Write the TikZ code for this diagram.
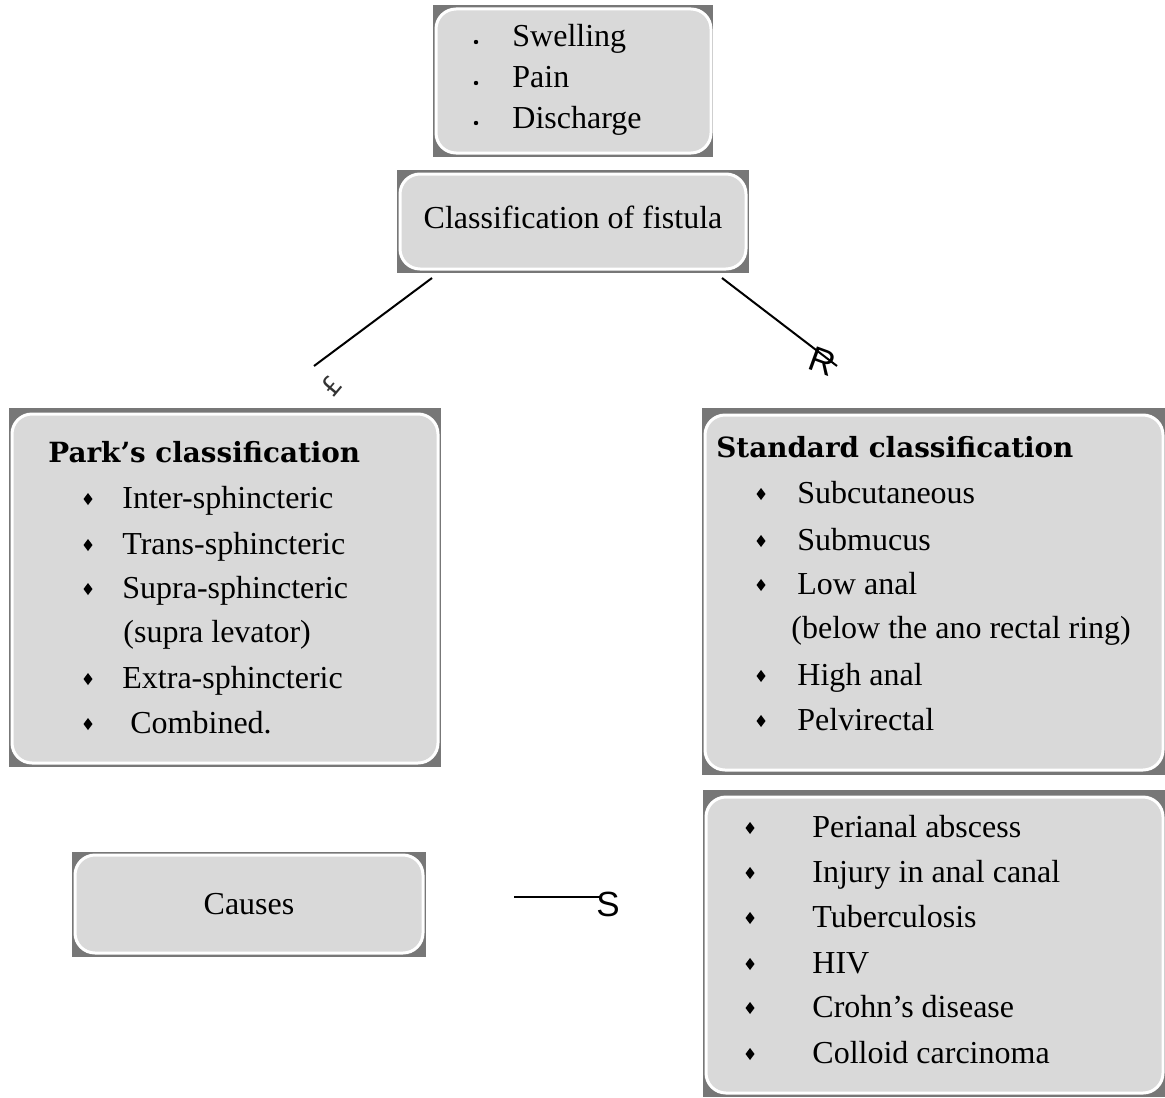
\documentclass[tikz,border=0pt]{standalone}
\usepackage{fontspec}
\setmainfont{Liberation Serif}
\newfontfamily\headfont{DejaVu Serif}
\newfontfamily\sansf{Liberation Sans}
\newfontfamily\symf{DejaVu Sans}
\usetikzlibrary{fit}
\definecolor{shadowc}{HTML}{777777}
\definecolor{boxc}{HTML}{D9D9D9}
\begin{document}
\begin{tikzpicture}[x=0.5pt,y=-0.5pt,
  shadowbox/.style={fill=shadowc, draw=none, inner sep=0pt},
  innerbox/.style={fill=boxc, draw=white, line width=1.5pt, rounded corners=10pt, inner sep=0pt},
  txt/.style={anchor=base west, inner sep=0pt, font=\fontsize{16}{19}\selectfont},
  ctxt/.style={anchor=base, inner sep=0pt, font=\fontsize{16}{19}\selectfont},
  head/.style={anchor=base west, inner sep=0pt, font=\headfont\bfseries\fontsize{13.9}{16}\selectfont},
  conn/.style={line width=1pt, black},
  glyph/.style={inner sep=0pt, font=\sansf\fontsize{17.5}{17.5}\selectfont}]
\useasboundingbox (0,0) rectangle (1165,1097);

% ---------- boxes ----------
\node (s1) [shadowbox, fit={(433,5) (713,157)}] {};
\node (b1) [innerbox, fit={(436,9) (711,153)}] {};
\node (s2) [shadowbox, fit={(397,170) (749,273)}] {};
\node (b2) [innerbox, fit={(400,174) (746,269)}] {};
\node (s3) [shadowbox, fit={(9,408) (441,767)}] {};
\node (b3) [innerbox, fit={(12,414) (438,763)}] {};
\node (s4) [shadowbox, fit={(702,408) (1165,775)}] {};
\node (b4) [innerbox, fit={(705,415) (1163,770)}] {};
\node (s5) [shadowbox, fit={(703,790) (1165,1097)}] {};
\node (b5) [innerbox, fit={(706,797) (1163,1093)}] {};
\node (s6) [shadowbox, fit={(72,852) (426,957)}] {};
\node (b6) [innerbox, fit={(75,855) (423,953)}] {};

% ---------- top box ----------
\foreach \y/\t [count=\i] in {47/Swelling, 88/Pain, 128/Discharge}{
  \fill (476,{\y-5}) circle (2.2);
  \node (t\i) [txt] at (512,\y) {\t};
}

% ---------- classification ----------
\node (cls) [ctxt] at (573,228) {Classification of fistula};

% ---------- Park's ----------
\node (ph) [head] at (48,462) {Park’s classification};
\foreach \x/\y/\t/\b [count=\i] in {122/508/Inter-sphincteric/1, 122/554/Trans-sphincteric/1,
    122/598/Supra-sphincteric/1, 123/642/(supra levator)/0, 122/688/Extra-sphincteric/1,
    130/733/Combined./1}{
  \ifnum\b=1 \fill (88,{\y-15}) -- (92.5,{\y-9}) -- (88,{\y-3}) -- (83.5,{\y-9}) -- cycle; \fi
  \node (p\i) [txt] at (\x,\y) {\t};
}

% ---------- Standard ----------
\node (sh) [head] at (716,457) {Standard classification};
\foreach \x/\y/\t/\b [count=\i] in {797/503/Subcutaneous/1, 797/550/Submucus/1,
    797/594/Low anal/1, 791/638/(below the ano rectal ring)/0, 797/685/High anal/1,
    797/730/Pelvirectal/1}{
  \ifnum\b=1 \fill (761,{\y-15}) -- (765.5,{\y-9}) -- (761,{\y-3}) -- (756.5,{\y-9}) -- cycle; \fi
  \node (q\i) [txt] at (\x,\y) {\t};
}

% ---------- causes list ----------
\foreach \y/\t [count=\i] in {837/Perianal abscess, 882/Injury in anal canal, 927/Tuberculosis,
    973/HIV, 1017/Crohn’s disease, 1063/Colloid carcinoma}{
  \fill (750,{\y-15}) -- (754.5,{\y-9}) -- (750,{\y-3}) -- (745.5,{\y-9}) -- cycle;
  \node (c\i) [txt] at (812,\y) {\t};
}

% ---------- Causes ----------
\node (causes) [ctxt] at (249,914) {Causes};

% ---------- connectors ----------
\coordinate (la) at (432,278);
\coordinate (lb) at (314,366);
\coordinate (ra) at (722,278);
\coordinate (rb) at (837,366);
\coordinate (ha) at (514,897);
\coordinate (hb) at (602,897);
\draw[conn] (la) -- (lb);
\draw[conn] (ra) -- (rb);
\draw[conn] (ha) -- (hb);

\node (gr) [glyph, rotate=-20] at (822,362) {R};
\node (gs) [glyph] at (608,904) {S};
\node (gx) [inner sep=0pt, font=\symf\fontsize{13}{13}\selectfont, rotate=50, text=black!80] at (331,386) {£};
\end{tikzpicture}
\end{document}
